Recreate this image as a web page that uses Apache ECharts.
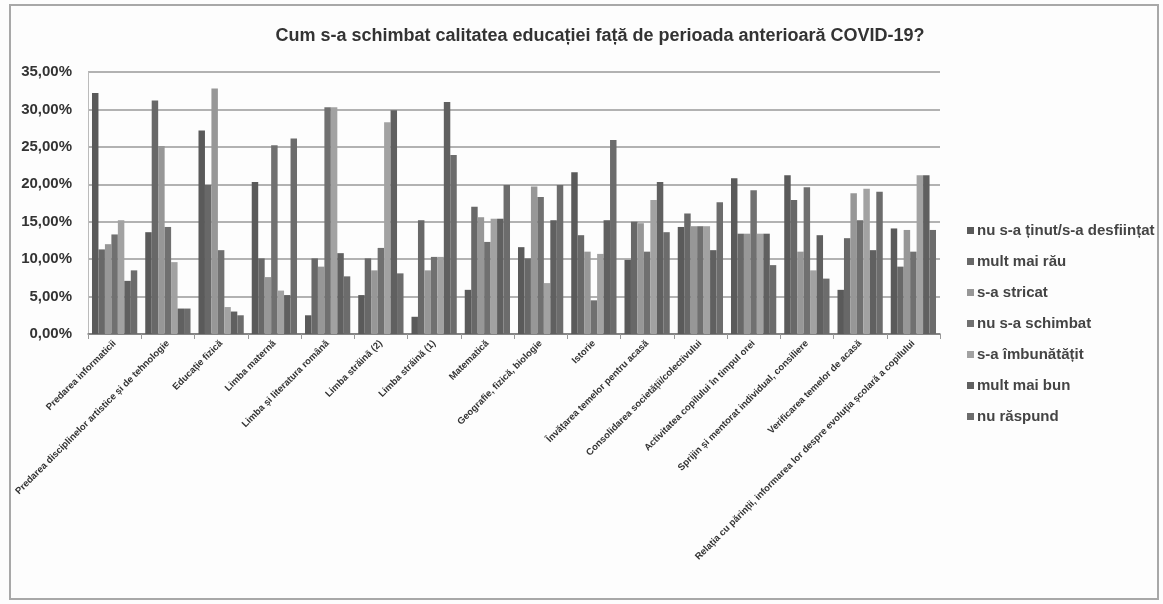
<!DOCTYPE html>
<html>
<head>
<meta charset="utf-8">
<script src="https://cdn.jsdelivr.net/npm/echarts@6/dist/echarts.min.js"></script>
<style>
  html, body { margin: 0; padding: 0; background: #fdfdfd; }
  #chart { width: 1163px; height: 604px; }
</style>
</head>
<body>
<div id="chart"></div>
<script>
// Subjects / activities on the category axis
const categories = [
  "Predarea informaticii",
  "Predarea disciplinelor artistice și de tehnologie",
  "Educație fizică",
  "Limba maternă",
  "Limba și literatura română",
  "Limba străină (2)",
  "Limba străină (1)",
  "Matematică",
  "Geografie, fizică, biologie",
  "Istorie",
  "Învățarea temelor pentru acasă",
  "Consolidarea societății/colectivului",
  "Activitatea copilului în timpul orei",
  "Sprijin și mentorat individual, consiliere",
  "Verificarea temelor de acasă",
  "Relația cu părinții, informarea lor despre evoluția școlară a copilului"
];

// Answer shares (%) per category
const nuSaTinut     = [32.2, 13.6, 27.2, 20.3,  2.5,  5.2,  2.3,  5.9, 11.6, 21.6,  9.9, 14.3, 20.8, 21.2,  5.9, 14.1];
const multMaiRau    = [11.3, 31.2, 19.9, 10.1, 10.1, 10.1, 15.2, 17.0, 10.1, 13.2, 15.0, 16.1, 13.4, 17.9, 12.8,  9.0];
const saStricat     = [12.0, 25.1, 32.8,  7.6,  9.0,  8.5,  8.5, 15.6, 19.7, 11.0, 14.8, 14.4, 13.4, 11.0, 18.8, 13.9];
const nuSaSchimbat  = [13.3, 14.3, 11.2, 25.2, 30.3, 11.5, 10.3, 12.3, 18.3,  4.5, 11.0, 14.4, 19.2, 19.6, 15.2, 11.0];
const saImbunatatit = [15.2,  9.6,  3.6,  5.8, 30.3, 28.3, 10.3, 15.4,  6.8, 10.7, 17.9, 14.4, 13.4,  8.5, 19.4, 21.2];
const multMaiBun    = [ 7.1,  3.4,  3.0,  5.2, 10.8, 29.9, 31.0, 15.4, 15.2, 15.2, 20.3, 11.2, 13.4, 13.2, 11.2, 21.2];
const nuRaspund     = [ 8.5,  3.4,  2.5, 26.1,  7.7,  8.1, 23.9, 19.9, 19.9, 25.9, 13.6, 17.6,  9.2,  7.4, 19.0, 13.9];

const yTicks = [0, 5, 10, 15, 20, 25, 30, 35];

const seriesDefs = [
  { name: "nu s-a ținut/s-a desființat", data: nuSaTinut,     color: "#5a5a5a" },
  { name: "mult mai rău",                data: multMaiRau,    color: "#686868" },
  { name: "s-a stricat",                 data: saStricat,     color: "#979797" },
  { name: "nu s-a schimbat",             data: nuSaSchimbat,  color: "#707070" },
  { name: "s-a îmbunătățit",             data: saImbunatatit, color: "#a2a2a2" },
  { name: "mult mai bun",                data: multMaiBun,    color: "#606060" },
  { name: "nu răspund",                  data: nuRaspund,     color: "#6c6c6c" }
];

const chart = echarts.init(document.getElementById("chart"));
const FONT = "Liberation Sans";

chart.setOption({
  backgroundColor: "#fdfdfd",
  animation: false,
  textStyle: { fontFamily: FONT },
  title: {
    text: "Cum s-a schimbat calitatea educației față de perioada anterioară COVID-19?",
    left: 595,
    textAlign: "center",
    top: 22,
    textStyle: { fontFamily: FONT, fontSize: 18, fontWeight: "bold", color: "#333" }
  },
  graphic: [{
    type: "rect",
    shape: { x: 10, y: 5, width: 1148, height: 594 },
    style: { fill: "none", stroke: "#a8a8a8", lineWidth: 2 },
    silent: true
  }],
  legend: {
    orient: "vertical",
    left: 962,
    top: 218,
    itemWidth: 7,
    itemHeight: 7,
    itemGap: 16,
    icon: "rect",
    textStyle: { fontFamily: FONT, fontSize: 15, fontWeight: "bold", color: "#444", padding: [0, 0, 0, -2] },
    data: seriesDefs.map(s => s.name)
  },
  grid: { left: 88, top: 72, width: 852, height: 262, containLabel: false },
  xAxis: {
    type: "category",
    data: categories,
    axisLine: { show: true, lineStyle: { color: "#777", width: 1.5 } },
    axisTick: { show: true, alignWithLabel: false, lineStyle: { color: "#999" } },
    axisLabel: {
      interval: 0,
      rotate: 45,
      fontFamily: FONT,
      fontSize: 9.5,
      fontWeight: "bold",
      color: "#333",
      margin: 8
    }
  },
  yAxis: {
    type: "value",
    min: 0,
    max: 35,
    interval: 5,
    axisLine: { show: true, lineStyle: { color: "#bbb" } },
    axisTick: { show: false },
    splitLine: { show: true, lineStyle: { color: "#999", width: 1.5 } },
    axisLabel: {
      fontFamily: FONT,
      fontSize: 15,
      fontWeight: "bold",
      color: "#333",
      margin: 16,
      customValues: yTicks,
      formatter: v => v.toFixed(2).replace(".", ",") + "%"
    }
  },
  series: seriesDefs.map(s => ({
    name: s.name,
    type: "bar",
    data: s.data,
    barGap: "0%",
    barCategoryGap: "15%",
    itemStyle: { color: s.color }
  }))
});
</script>
</body>
</html>
